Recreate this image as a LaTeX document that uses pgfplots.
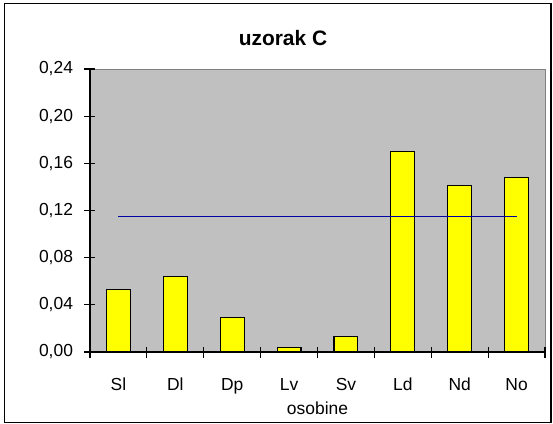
\documentclass[border=0pt]{standalone}
\usepackage{fontspec}
\setmainfont{Liberation Sans}
\usepackage{pgfplots}
\pgfplotsset{compat=1.18}
\definecolor{plotgray}{RGB}{192,192,192}
\definecolor{framegray}{RGB}{128,128,128}
\definecolor{baryellow}{RGB}{255,255,0}
\definecolor{lineblue}{RGB}{0,0,160}

\begin{document}
\begin{tikzpicture}
\path[use as bounding box] (-90bp,-72bp) rectangle (463bp,352bp);
\fill[white] (-90bp,-72bp) rectangle (463bp,352bp);
\draw[line width=1.2bp] (-85.5bp,-70.5bp) rectangle (461bp,348.5bp);
\begin{axis}[
  scale only axis, width=455bp, height=283bp,
  xmin=-0.5, xmax=7.5, ymin=0, ymax=0.24,
  axis lines=left,
  axis line style={-, black, line width=1.4bp},
  axis background/.style={fill=plotgray, draw=framegray, line width=0.8bp},
  xtick={0,...,7},
  xticklabels={Sl,Dl,Dp,Lv,Sv,Ld,Nd,No},
  major x tick style={draw=none},
  minor xtick={-0.5,0.5,...,7.5},
  minor x tick style={black, line width=1.2bp},
  ytick={0,0.04,0.08,0.12,0.16,0.20,0.24},
  y tick style={black, line width=1.2bp},
  tick align=center,
  major tick length=11bp, minor tick length=11bp,
  yticklabel style={xshift=-8bp, /pgf/number format/.cd, fixed, fixed zerofill, precision=2, use comma, assume math mode=true},
  tick label style={font=\fontsize{17.5}{17.5}\selectfont},
  xticklabel style={yshift=-17bp},
  xlabel={osobine},
  xlabel style={font=\fontsize{17.5}{17.5}\selectfont, yshift=-1bp},
  clip=false,
]
\addplot[ybar, bar width=0.42, fill=baryellow, draw=black, line width=1.1bp] coordinates {
 (0,0.053) (1,0.064) (2,0.029) (3,0.004) (4,0.013) (5,0.170) (6,0.141) (7,0.148)};
\addplot[lineblue, line width=1.3bp] coordinates {(0,0.115) (7,0.115)};
\end{axis}
\node[font=\bfseries\fontsize{21}{21}\selectfont] at (193bp,314bp) {uzorak C};
\end{tikzpicture}
\end{document}
